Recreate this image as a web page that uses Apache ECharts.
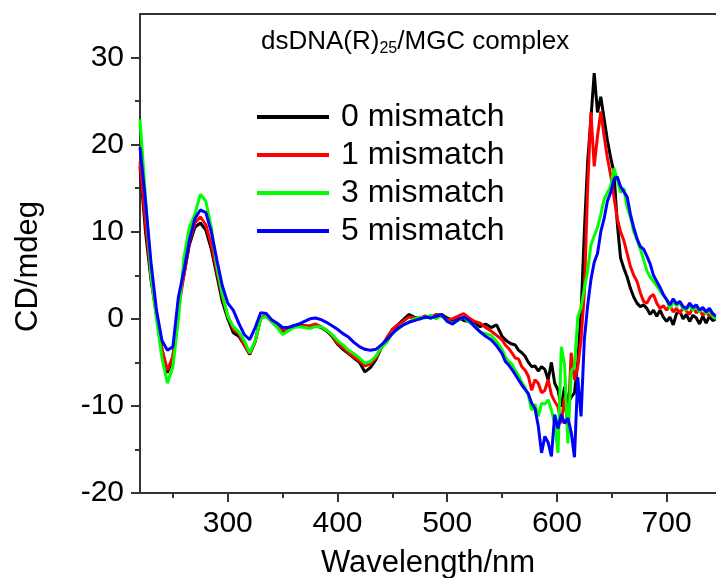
<!DOCTYPE html>
<html>
<head>
<meta charset="utf-8">
<script src="https://cdn.jsdelivr.net/npm/echarts@6/dist/echarts.min.js"></script>
<style>
  html, body { margin: 0; padding: 0; background: #fff; }
  #chart { width: 716px; height: 578px; }
</style>
</head>
<body>
<div id="chart"></div>
<script>
// wavelength grid (nm)
const wavelengths = [
    220, 225, 230, 235, 240, 245, 250, 255, 260, 265,
    270, 275, 280, 285, 290, 295, 300, 305, 310, 315,
    320, 325, 330, 335, 340, 345, 350, 355, 360, 365,
    370, 375, 380, 385, 390, 395, 400, 405, 410, 415,
    420, 425, 430, 435, 440, 445, 450, 455, 460, 465,
    470, 475, 480, 485, 490, 495, 500, 505, 510, 515,
    520, 525, 530, 535, 540, 545, 550, 553, 556, 559,
    562, 565, 568, 571, 574, 577, 580, 583, 586, 589,
    592, 595, 598, 601, 604, 607, 610, 613, 616, 619,
    622, 625, 628, 631, 634, 637, 640, 643, 646, 649,
    652, 655, 658, 661, 664, 667, 670, 673, 676, 679,
    682, 685, 688, 691, 694, 697, 700, 703, 706, 709,
    712, 715, 718, 721, 724, 727, 730, 733, 736, 739,
    742, 745
];

// CD values (mdeg)
const mismatch0 = [
    17.5, 10, 4.5, 0.5, -3.5, -6.2, -4.5, 2.0, 5.0, 8.5,
    10.5, 11.0, 10.2, 8.0, 5.0, 2.0, 0.0, -1.6, -2.0, -3.0,
    -4.1, -2.6, 0.1, 0.3, -0.3, -0.9, -1.4, -1.2, -0.8, -0.7,
    -0.8, -0.9, -0.7, -1.0, -1.4, -2.0, -2.9, -3.5, -4.0, -4.5,
    -5.0, -6.1, -5.6, -4.7, -3.3, -2.2, -1.3, -0.7, -0.1, 0.5,
    0.2, 0.0, 0.3, 0.1, 0.4, 0.5, 0.1, -0.2, 0.2, -0.2,
    -0.3, -0.5, -0.9, -0.6, -1.0, -0.7, -2.0, -2.4, -2.7, -2.9,
    -3.0, -3.6, -3.9, -4.3, -5.0, -5.5, -5.4, -6.0, -5.5, -5.8,
    -7.0, -5.0, -7.4, -8.2, -10.1, -7.8, -9.7, -9.0, -8.5, -5.0,
    0.7, 10, 18, 23, 28.2, 23.7, 25.5, 23, 20.5, 18.5,
    16.8, 11, 7.0, 5.8, 4.8, 3.5, 2.5, 1.8, 1.4, 1.6,
    1.2, 0.5, 1.0, 0.3, 1.0, 0.2, -0.3, 0.2, -0.7, 0.6,
    0.9, 0.0, 0.5, -0.3, 0.4, 0.1, -0.6, 0.3, -0.5, 0.3,
    -0.2, 0.0
];
const mismatch1 = [
    18, 11, 5, 0.5, -3.5, -5.9, -4.3, 1.0, 5.0, 8.8,
    11.0, 11.7, 10.8, 8.5, 5.5, 2.5, 0.3, -1.2, -1.7, -3.0,
    -4.0, -2.6, 0.1, 0.4, -0.3, -0.9, -1.3, -1.2, -0.9, -0.7,
    -0.8, -0.8, -0.6, -0.9, -1.3, -1.9, -2.8, -3.3, -3.9, -4.4,
    -4.8, -5.4, -5.2, -4.5, -3.2, -2.2, -1.2, -0.7, -0.3, 0.2,
    0.1, 0.0, 0.3, 0.2, 0.5, 0.3, -0.1, 0.0, 0.3, 0.6,
    0.1, -0.3, -0.5, -1.0, -1.4, -1.9, -2.4, -3.0, -3.4, -3.9,
    -4.5, -4.6, -5.5, -5.9, -6.6, -8.2, -7.0, -7.4, -8.5, -8.2,
    -7.0, -8.7, -9.5, -10.1, -12.0, -9.0, -12.4, -3.9, -7.0, -5.5,
    -2.4, 3.0, 15, 23.7, 17.5, 21, 23.8, 21, 18.5, 16.5,
    14, 11.5, 10.0, 9.0, 7.5, 6.0, 5.0, 4.3, 3.0, 2.0,
    1.8, 2.5, 2.8, 1.8, 1.2, 1.5, 1.0, 1.5, 0.8, 1.2,
    0.6, 1.3, 0.9, 0.5, 1.4, 0.7, 1.0, 0.4, 0.8, 0.3,
    0.6, 0.2
];
const mismatch3 = [
    22.9, 14, 5, 0, -4.5, -7.4, -5.5, 0.0, 7.0, 10.5,
    12.0, 14.3, 13.5, 10.5, 6.0, 2.8, 0.3, -0.9, -1.5, -2.5,
    -3.9, -2.5, 0.0, 0.3, -0.3, -1.0, -1.8, -1.4, -1.0, -0.9,
    -1.0, -1.1, -0.9, -0.9, -1.3, -1.8, -2.5, -3.0, -3.6, -4.0,
    -4.5, -5.1, -4.9, -4.3, -3.3, -2.7, -1.6, -1.2, -0.7, -0.4,
    0.0, 0.2, 0.1, 0.4, 0.0, 0.4, -0.3, -0.5, -0.2, 0.2,
    -0.4, -0.8, -1.5, -1.7, -1.9, -2.6, -3.5, -4.4, -4.9, -5.2,
    -5.9, -6.5, -7.3, -7.9, -8.8, -10.5, -9.8, -11.2, -9.7, -9.8,
    -9.3, -10.5, -12.0, -15.4, -3.2, -5.3, -14.3, -6.0, -5.5, 0.2,
    1.3, 3.5, 5.5, 8.5, 9.5, 10.5, 12.0, 13.7, 14.5, 15.2,
    17.3, 16.0, 14.5, 15.0, 12.8, 11.7, 10.0, 9.1, 8.0, 6.8,
    5.5, 4.8, 4.3, 3.8, 3.2, 2.7, 2.2, 1.2, 2.0, 1.5,
    1.8, 1.2, 1.0, 1.6, 1.0, 1.4, 0.8, 1.2, 0.6, 1.0,
    0.3, 0.0
];
const mismatch5 = [
    19.7, 13.5, 6.5, 1.0, -2.5, -3.6, -3.2, 2.5, 5.5, 9.0,
    11.5, 12.5, 12.2, 10.0, 6.8, 3.8, 1.8, 1.0, -0.5, -1.8,
    -2.4, -1.0, 0.7, 0.6, -0.1, -0.5, -1.0, -1.0, -0.8, -0.6,
    -0.3, 0.0, 0.1, -0.1, -0.4, -0.8, -1.2, -1.7, -2.1, -2.7,
    -3.2, -3.5, -3.6, -3.5, -3.0, -2.4, -1.7, -1.1, -0.7, -0.4,
    -0.2, 0.0, 0.2, 0.1, 0.3, 0.5, -0.3, -0.6, -0.1, 0.2,
    -0.2, -0.9, -1.5, -2.0, -2.4, -3.1, -4.0, -4.9, -5.3, -5.8,
    -6.4, -7.0, -7.6, -8.1, -8.6, -9.7, -10.3, -12.3, -15.4, -13.5,
    -14.2, -15.8, -11.0, -12.6, -11.0, -12.0, -11.4, -13.0, -15.9, -6.7,
    -11.2, -2.4, 1.5, 4.5, 6.5, 7.5, 10.0, 11.5, 13.5, 14.5,
    16.0, 16.3, 15.2, 14.6, 14.0, 12.0, 10.5, 9.2, 8.3, 8.0,
    7.2, 6.3, 5.0, 4.3, 3.6, 2.8, 2.2, 1.6, 2.3, 1.7,
    2.0, 1.4, 1.2, 1.8, 1.3, 1.6, 1.0, 1.3, 0.8, 1.2,
    0.6, 0.3
];

const seriesNames = ['0 mismatch', '1 mismatch', '3 mismatch', '5 mismatch'];
const seriesColors = ['#000000', '#ff0000', '#00ff00', '#0000ff'];
const seriesValues = [mismatch0, mismatch1, mismatch3, mismatch5];

const xMajor = [300, 400, 500, 600, 700];
const xMinor = [250, 350, 450, 550, 650];
const yMajor = [-20, -10, 0, 10, 20, 30];
const yMinor = [-15, -5, 5, 15, 25];

const font = "'Liberation Sans', Arial, sans-serif";
const axisColor = '#333';

const chart = echarts.init(document.getElementById('chart'));

const option = {
    animation: false,
    backgroundColor: '#fff',
    title: {
        text: '{a|dsDNA(R)}{b|25}{a|/MGC complex}',
        left: 261,
        top: 31,
        padding: 0,
        textStyle: {
            fontWeight: 'normal',
            rich: {
                a: { fontSize: 26, lineHeight: 26, fontWeight: 'normal', padding: [0, 0, 5, 0], color: '#000', fontFamily: font },
                b: { fontSize: 16, lineHeight: 16, fontWeight: 'normal', verticalAlign: 'bottom', color: '#000', fontFamily: font }
            }
        }
    },
    legend: {
        orient: 'vertical',
        left: 257,
        top: 101,
        padding: 0,
        icon: 'rect',
        itemWidth: 72,
        itemHeight: 4,
        itemGap: 6,
        data: seriesNames,
        textStyle: {
            fontSize: 32,
            lineHeight: 32,
            color: '#000',
            fontFamily: font,
            padding: [0, 0, 0, 7]
        }
    },
    grid: {
        left: 140,
        right: 0,
        top: 14,
        bottom: 85,
        outerBoundsMode: 'none'
    },
    xAxis: [
        {
            type: 'value',
            position: 'bottom',
            min: 220,
            max: 745,
            name: 'Wavelength/nm',
            nameLocation: 'middle',
            nameGap: 55,
            nameTextStyle: { fontSize: 31, color: '#000', fontFamily: font },
            axisLine: { show: true, onZero: false, lineStyle: { color: axisColor, width: 2 } },
            axisTick: { show: true, length: 9, customValues: xMajor, lineStyle: { color: axisColor, width: 2 } },
            axisLabel: { customValues: xMajor, fontSize: 30, margin: 16, color: '#000', fontFamily: font },
            splitLine: { show: false }
        },
        {
            type: 'value',
            position: 'bottom',
            min: 220,
            max: 745,
            axisLine: { show: false, onZero: false },
            axisTick: { show: true, length: 5, customValues: xMinor, lineStyle: { color: axisColor, width: 2 } },
            axisLabel: { show: false },
            splitLine: { show: false }
        },
        {
            type: 'value',
            position: 'top',
            min: 220,
            max: 745,
            axisLine: { show: true, onZero: false, lineStyle: { color: axisColor, width: 2 } },
            axisTick: { show: false },
            axisLabel: { show: false },
            splitLine: { show: false }
        }
    ],
    yAxis: [
        {
            type: 'value',
            position: 'left',
            min: -20,
            max: 35,
            name: 'CD/mdeg',
            nameLocation: 'middle',
            nameGap: 96,
            nameTextStyle: { fontSize: 31, color: '#000', fontFamily: font, padding: [0, 26, 0, 0] },
            axisLine: { show: true, onZero: false, lineStyle: { color: axisColor, width: 2 } },
            axisTick: { show: true, length: 9, customValues: yMajor, lineStyle: { color: axisColor, width: 2 } },
            axisLabel: { customValues: yMajor, fontSize: 30, margin: 16, color: '#000', fontFamily: font },
            splitLine: { show: false }
        },
        {
            type: 'value',
            position: 'left',
            min: -20,
            max: 35,
            axisLine: { show: false, onZero: false },
            axisTick: { show: true, length: 5, customValues: yMinor, lineStyle: { color: axisColor, width: 2 } },
            axisLabel: { show: false },
            splitLine: { show: false }
        }
    ],
    series: seriesNames.map((name, i) => ({
        name: name,
        type: 'line',
        xAxisIndex: 0,
        yAxisIndex: 0,
        showSymbol: false,
        symbol: 'none',
        data: wavelengths.map((w, j) => [w, seriesValues[i][j]]),
        lineStyle: { color: seriesColors[i], width: 3 },
        itemStyle: { color: seriesColors[i] },
        z: 2 + i
    }))
};

chart.setOption(option);
</script>
</body>
</html>
